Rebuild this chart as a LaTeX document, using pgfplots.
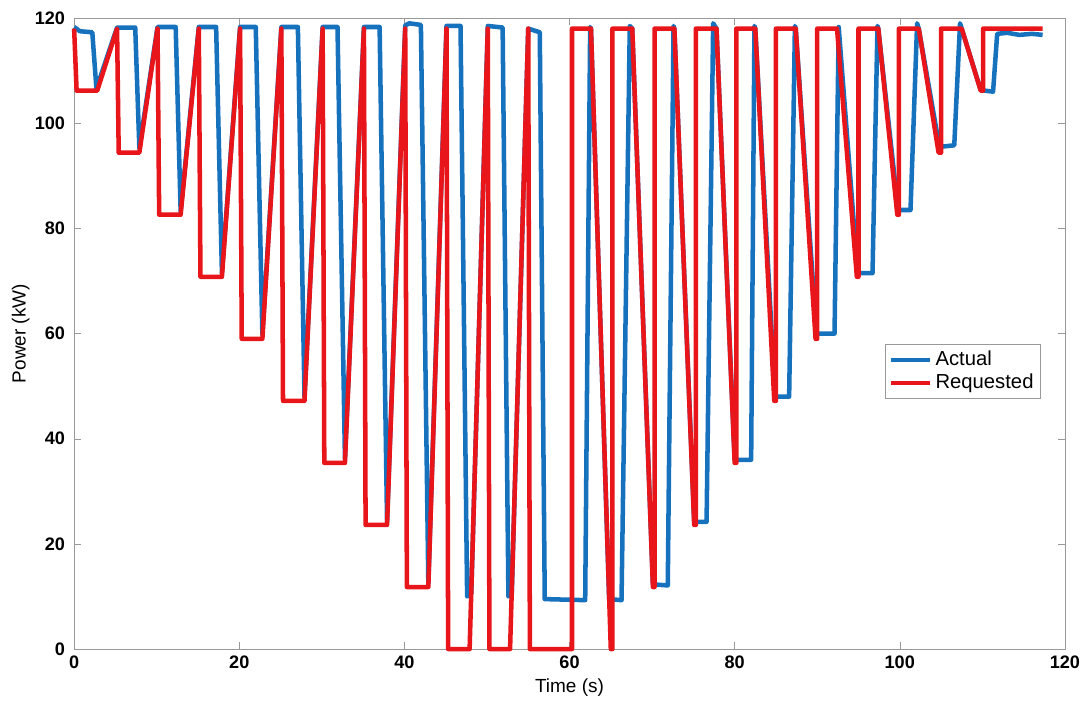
\documentclass[border=0pt]{standalone}
\usepackage{pgfplots}
\pgfplotsset{compat=1.18}
\usepackage{fontspec}
\setmainfont{Liberation Sans}

\definecolor{actual}{RGB}{22,114,189}
\definecolor{requested}{RGB}{232,22,26}

\begin{document}
\begin{tikzpicture}
    \begin{axis}[
        width=548pt,
        height=349pt,
        scale only axis,
        xmin=0, xmax=120,
        ymin=0, ymax=120,
        xtick distance=20,
        ytick distance=20,
        tick align=inside,
        axis line style={gray!80},
        major tick style={gray!80},
        major tick length=4pt,
        ticklabel style={font=\bfseries\fontsize{10}{12}\selectfont},
        yticklabel style={xshift=-1.5pt},
        /pgf/number format/assume math mode=true,
        xlabel={Time (s)},
        ylabel={Power (kW)},
        label style={font=\fontsize{10.5}{12}\selectfont},
        xlabel style={yshift=1pt},
        ylabel style={yshift=-4pt},
        legend style={at={(0.976,0.484)}, anchor=north east,
            draw=gray!80, font=\fontsize{11.2}{13}\selectfont,
            inner sep=2pt, row sep=-1pt},
        legend cell align=left,
        legend image code/.code={
            \draw[#1, line width=2.4pt] (0cm,0cm) -- (0.75cm,0cm);},
        clip=false,
    ]
        % measured response
        \addplot[color=actual, line width=2.5pt, line join=round] coordinates{
            (0,118.3) (0.7,117.5) (2.2,117.3) (2.7,106.6) (5.2,118.2)
            (7.4,118.2) (7.9,95.3) (10.1,118.3)
            (12.3,118.3) (12.9,83.3) (15.1,118.3)
            (17.2,118.3) (17.9,71.5) (20.1,118.3)
            (22.0,118.3) (22.8,59.8) (25.1,118.3)
            (27.1,118.3) (27.9,48.0) (30.1,118.3)
            (31.9,118.3) (32.8,36.2) (35.1,118.3)
            (37.0,118.3) (37.9,24.2) (40.1,118.6)
            (40.6,119.0) (42.0,118.7) (42.9,12.5) (45.1,118.5)
            (46.8,118.5) (47.6,10.0) (48.1,10.5) (50.1,118.5)
            (51.9,118.2) (52.6,10.0) (53.0,10.3) (55.0,118.0)
            (56.4,117.3) (57.0,9.5) (61.9,9.3) (62.5,118.3)
            (62.6,118.0) (64.8,9.5) (66.3,9.3) (67.3,118.5)
            (67.6,118.0) (70.1,12.3) (71.9,12.1) (72.6,118.5)
            (72.7,118.0) (75.1,24.2) (76.6,24.2) (77.4,119.0)
            (77.8,118.0) (80.0,36.0) (82.0,36.0) (82.4,118.5)
            (82.5,118.0) (84.9,48.0) (86.6,48.0) (87.3,118.5)
            (87.4,118.0) (89.9,60.0) (92.1,60.0) (92.6,118.3)
            (94.9,71.5) (96.7,71.5) (97.3,118.5)
            (97.4,118.0) (99.8,83.5) (101.3,83.5) (102.1,119.0)
            (102.3,118.0) (104.8,95.5) (106.6,95.8) (107.3,119.0)
            (107.5,118.0) (109.8,106.3) (111.3,106.0) (111.8,117.0)
            (113.0,117.2) (114.5,116.8) (116.0,117.0) (117.3,116.8)
        };
        % demand signal
        \addplot[color=requested, line width=2.5pt, line join=round] coordinates{
            (0,118.0) (0.3,106.2) (2.8,106.2) (5.2,118.0)
            (5.4,94.4) (7.9,94.4) (10.1,118.0)
            (10.3,82.6) (12.9,82.6) (15.1,118.0)
            (15.3,70.8) (17.9,70.8) (20.1,118.0)
            (20.3,59.0) (22.8,59.0) (25.1,118.0)
            (25.3,47.2) (27.9,47.2) (30.1,118.0)
            (30.3,35.4) (32.8,35.4) (35.1,118.0)
            (35.3,23.6) (37.9,23.6) (40.1,118.0)
            (40.3,11.8) (42.9,11.8) (45.1,118.0)
            (45.3,0) (47.9,0) (50.1,118.0)
            (50.3,0) (52.8,0) (55.0,118.0)
            (55.2,0) (60.3,0) (60.3,118.0)
            (62.6,118.0) (65.0,0) (65.2,0) (65.2,118.0)
            (67.6,118.0) (70.1,11.8) (70.3,11.8) (70.3,118.0)
            (72.7,118.0) (75.1,23.6) (75.3,23.6) (75.3,118.0)
            (77.8,118.0) (80.0,35.4) (80.2,35.4) (80.2,118.0)
            (82.5,118.0) (84.8,47.2) (85.0,47.2) (85.0,118.0)
            (87.4,118.0) (89.8,59.0) (90.0,59.0) (90.0,118.0)
            (92.4,118.0) (94.8,70.8) (95.0,70.8) (95.0,118.0)
            (97.4,118.0) (99.7,82.6) (99.9,82.6) (99.9,118.0)
            (102.3,118.0) (104.7,94.4) (105.0,94.4) (105.0,118.0)
            (107.5,118.0) (109.8,106.2) (110.1,106.2) (110.1,118.0)
            (117.3,118.0)
        };
        \legend{Actual, Requested}
    \end{axis}
    % white margins round the frame, as in the reference
    \path (current axis.north) ++(0,10pt);
    \path (current axis.south west) ++(-41pt,0);
    \path (current axis.south east) ++(9pt,0);
\end{tikzpicture}
\end{document}
